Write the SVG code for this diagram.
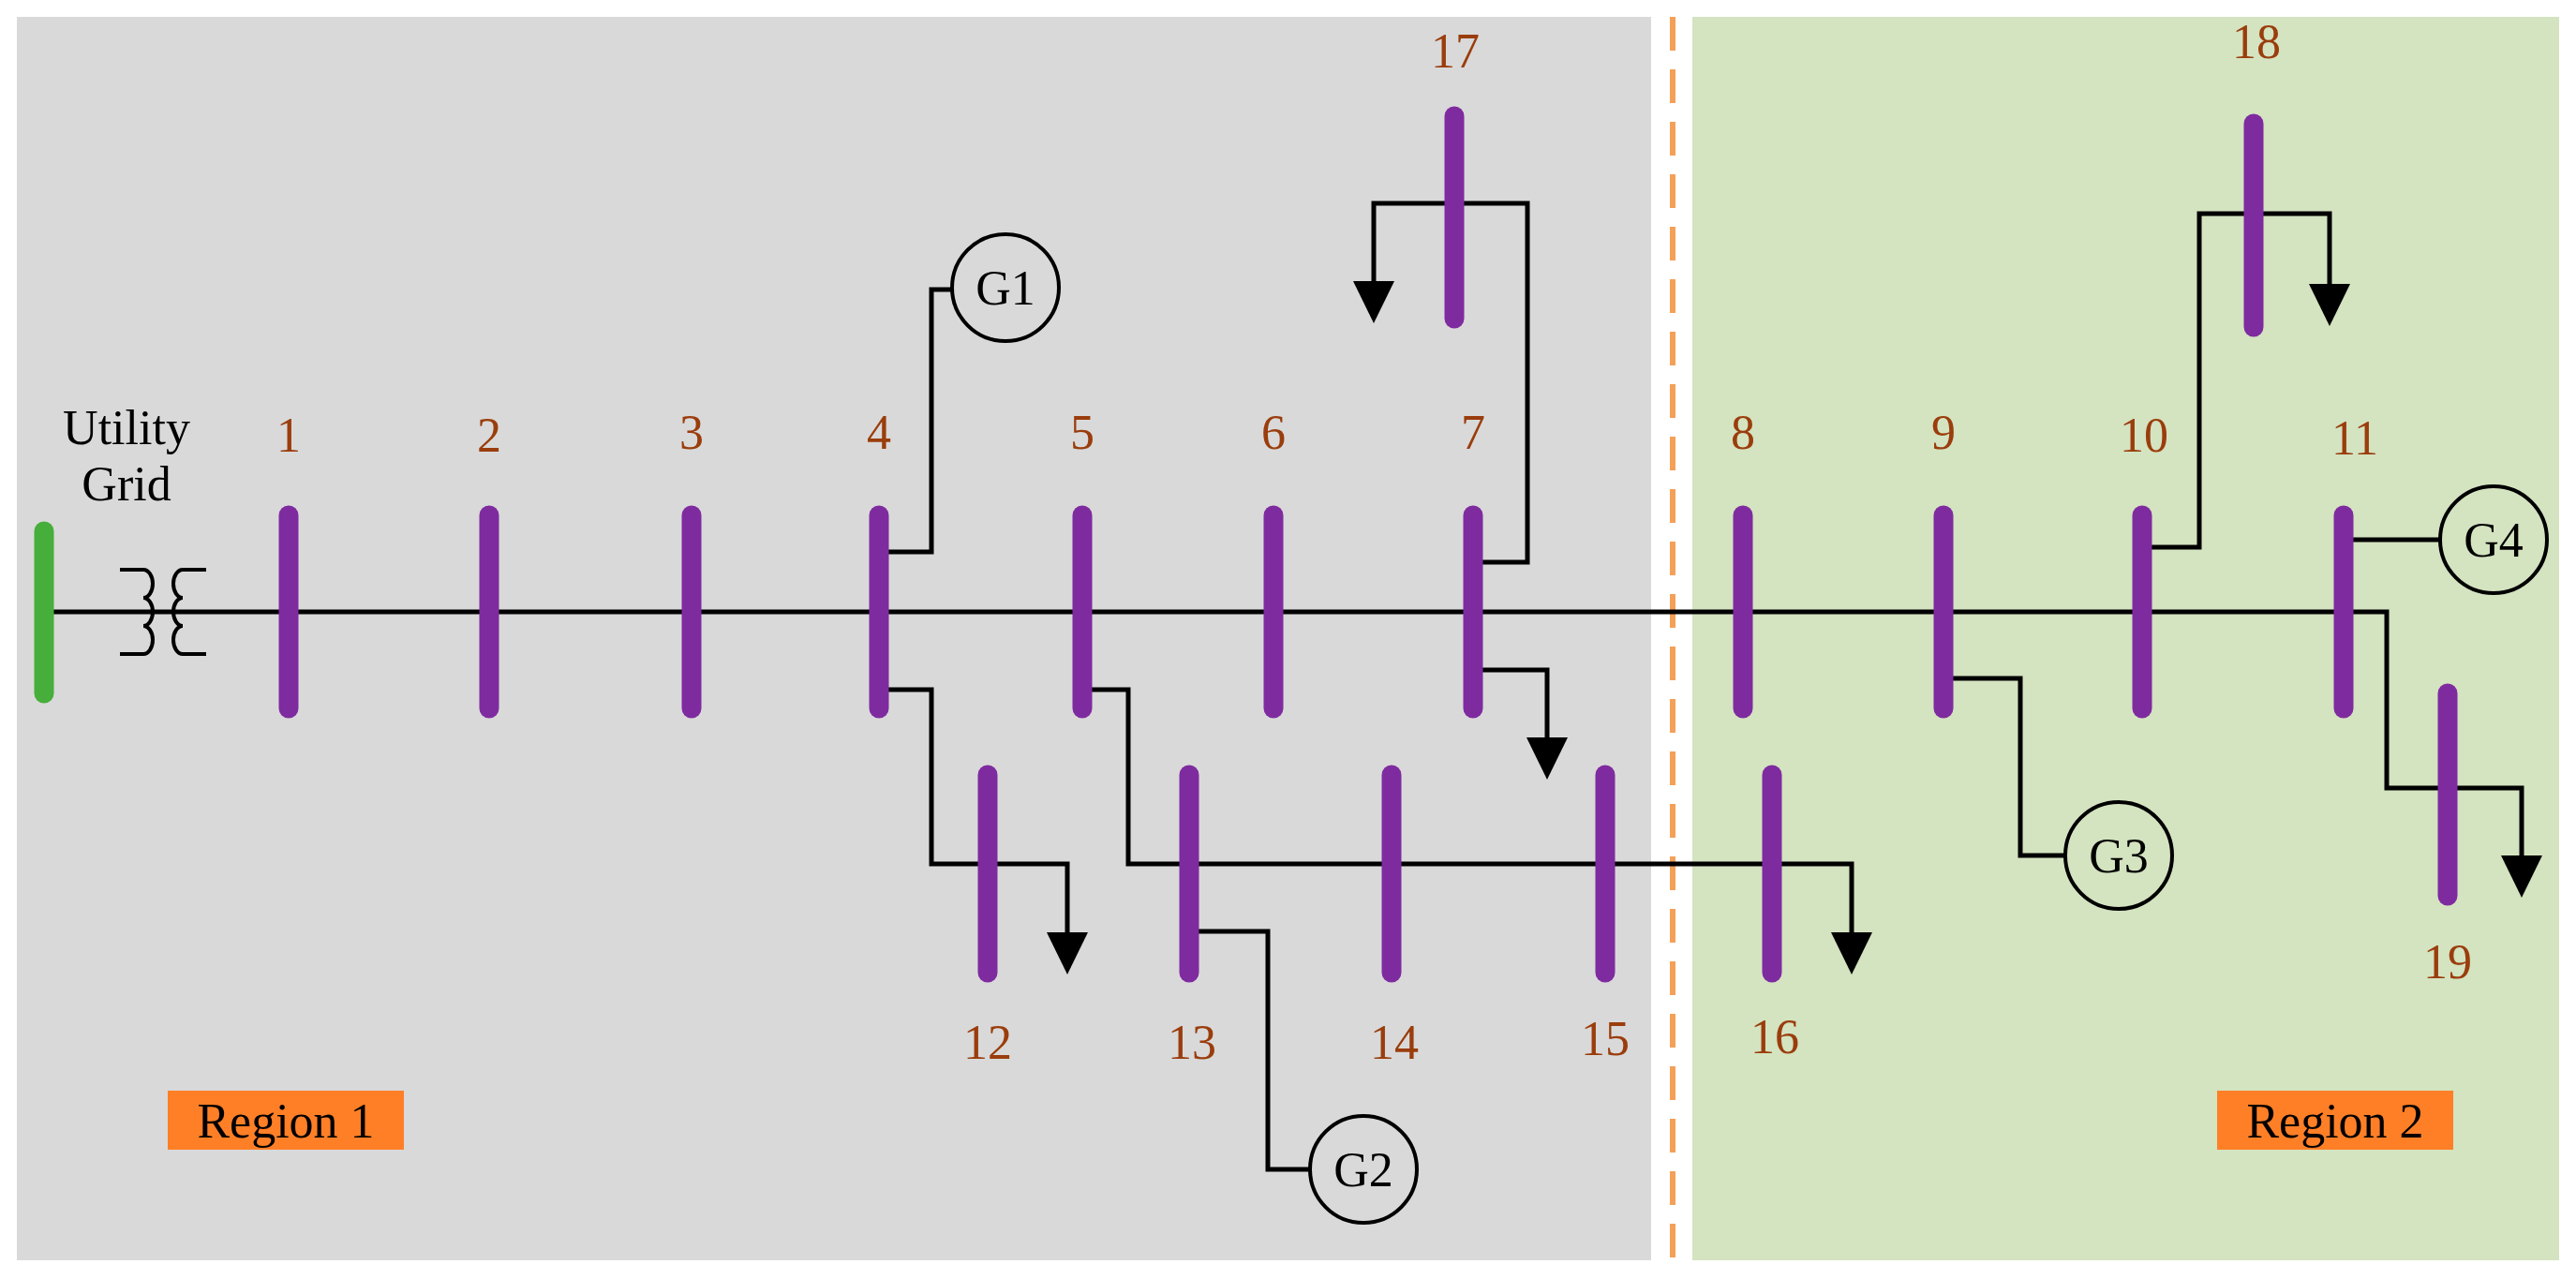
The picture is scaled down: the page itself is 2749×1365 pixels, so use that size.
<svg xmlns="http://www.w3.org/2000/svg" width="2749" height="1365" viewBox="0 0 2749 1365">
<defs>
<style>
.bus{stroke:#7F2BA0;stroke-width:21;stroke-linecap:round}
.w{fill:none;stroke:#000;stroke-width:5}
.lb{font-family:"Liberation Serif",serif;font-size:52px;fill:#9A3D0C;text-anchor:middle}
.tx{font-family:"Liberation Serif",serif;font-size:52px;fill:#000;text-anchor:middle}
.gc{fill:none;stroke:#000;stroke-width:4}
</style>
</defs>
<rect width="2749" height="1365" fill="#fff"/>
<rect x="18" y="18" width="1744" height="1327" fill="#D9D9D9"/>
<rect x="1806" y="18" width="925" height="1327" fill="#D4E3C0"/>
<line x1="1785" y1="18" x2="1785" y2="1345" stroke="#F4A058" stroke-width="6" stroke-dasharray="36,20"/>
<g id="connectors">
<line class="w" x1="47" y1="653" x2="2501" y2="653"/>
<path class="w" d="M938,589 H994 V309 H1015"/>
<path class="w" d="M938,736 H994 V922 H1139 V995"/>
<path class="w" d="M1155,736 H1204 V922 H1976 V995"/>
<path class="w" d="M1269,994 H1353 V1248 H1397"/>
<path class="w" d="M1572,600 H1630 V217 H1466 V300"/>
<path class="w" d="M1572,715 H1651 V787"/>
<path class="w" d="M2501,653 H2547 V841 H2691 V913"/>
<path class="w" d="M2074,724 H2156 V913 H2203"/>
<path class="w" d="M2286,584 H2347 V228 H2486 V303"/>
<path class="w" d="M2501,576 H2603"/>
<g fill="#000">
<path d="M1117,995 H1161 L1139,1040 Z"/>
<path d="M1954,995 H1998 L1976,1040 Z"/>
<path d="M1444,300 H1488 L1466,345 Z"/>
<path d="M1629,787 H1673 L1651,832 Z"/>
<path d="M2669,913 H2713 L2691,958 Z"/>
<path d="M2464,303 H2508 L2486,348 Z"/>
</g>
</g>
<g id="grid">
<line x1="47" y1="567" x2="47" y2="740" stroke="#46AE3A" stroke-width="21" stroke-linecap="round"/>
<text class="tx" x="135" y="474">Utility</text>
<text class="tx" x="135" y="534">Grid</text>
</g>
<g id="transformer" class="w" style="stroke-width:4">
<path d="M128,608 H153 a10,15 0 0 1 0,30 a10,15 0 0 1 0,30 a10,15 0 0 1 0,30 H128"/>
<path d="M220,608 H195 a10,15 0 0 0 0,30 a10,15 0 0 0 0,30 a10,15 0 0 0 0,30 H220"/>
</g>
<g id="bus1"><line class="bus" x1="308" y1="550" x2="308" y2="756"/><text class="lb" x="308" y="482">1</text></g>
<g id="bus2"><line class="bus" x1="522" y1="550" x2="522" y2="756"/><text class="lb" x="522" y="482">2</text></g>
<g id="bus3"><line class="bus" x1="738" y1="550" x2="738" y2="756"/><text class="lb" x="738" y="479">3</text></g>
<g id="bus4"><line class="bus" x1="938" y1="550" x2="938" y2="756"/><text class="lb" x="938" y="479">4</text></g>
<g id="bus5"><line class="bus" x1="1155" y1="550" x2="1155" y2="756"/><text class="lb" x="1155" y="479">5</text></g>
<g id="bus6"><line class="bus" x1="1359" y1="550" x2="1359" y2="756"/><text class="lb" x="1359" y="479">6</text></g>
<g id="bus7"><line class="bus" x1="1572" y1="550" x2="1572" y2="756"/><text class="lb" x="1572" y="479">7</text></g>
<g id="bus8"><line class="bus" x1="1860" y1="550" x2="1860" y2="756"/><text class="lb" x="1860" y="479">8</text></g>
<g id="bus9"><line class="bus" x1="2074" y1="550" x2="2074" y2="756"/><text class="lb" x="2074" y="479">9</text></g>
<g id="bus10"><line class="bus" x1="2286" y1="550" x2="2286" y2="756"/><text class="lb" x="2288" y="482">10</text></g>
<g id="bus11"><line class="bus" x1="2501" y1="550" x2="2501" y2="756"/><text class="lb" x="2513" y="485">11</text></g>
<g id="bus12"><line class="bus" x1="1054" y1="827" x2="1054" y2="1038"/><text class="lb" x="1054" y="1130">12</text></g>
<g id="bus13"><line class="bus" x1="1269" y1="827" x2="1269" y2="1038"/><text class="lb" x="1272" y="1130">13</text></g>
<g id="bus14"><line class="bus" x1="1485" y1="827" x2="1485" y2="1038"/><text class="lb" x="1488" y="1130">14</text></g>
<g id="bus15"><line class="bus" x1="1713" y1="827" x2="1713" y2="1038"/><text class="lb" x="1713" y="1126">15</text></g>
<g id="bus16"><line class="bus" x1="1891" y1="827" x2="1891" y2="1038"/><text class="lb" x="1894" y="1124">16</text></g>
<g id="bus17"><line class="bus" x1="1552" y1="124" x2="1552" y2="340"/><text class="lb" x="1553" y="72">17</text></g>
<g id="bus18"><line class="bus" x1="2405" y1="132" x2="2405" y2="349"/><text class="lb" x="2408" y="62">18</text></g>
<g id="bus19"><line class="bus" x1="2612" y1="740" x2="2612" y2="956"/><text class="lb" x="2612" y="1044">19</text></g>
<g id="G1"><circle class="gc" cx="1073" cy="307" r="57"/><text class="tx" x="1073" y="325">G1</text></g>
<g id="G2"><circle class="gc" cx="1455" cy="1248" r="57"/><text class="tx" x="1455" y="1266">G2</text></g>
<g id="G3"><circle class="gc" cx="2261" cy="913" r="57"/><text class="tx" x="2261" y="931">G3</text></g>
<g id="G4"><circle class="gc" cx="2661" cy="576" r="57"/><text class="tx" x="2661" y="594">G4</text></g>
<g id="region1"><rect x="179" y="1164" width="252" height="63" fill="#FF7F27"/><text class="tx" x="305" y="1214">Region 1</text></g>
<g id="region2"><rect x="2366" y="1164" width="252" height="63" fill="#FF7F27"/><text class="tx" x="2492" y="1214">Region 2</text></g>
</svg>
